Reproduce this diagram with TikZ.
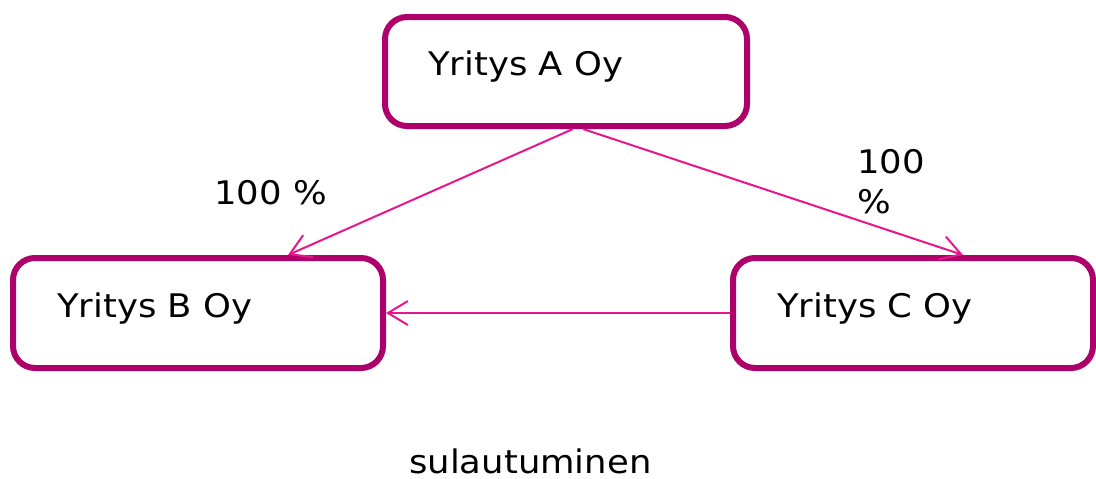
\documentclass[tikz,border=0pt]{standalone}
\usepackage{fontspec}
\setmainfont{DejaVu Sans}[FakeStretch=1.09]
\usetikzlibrary{arrows.meta,calc}
\definecolor{boxborder}{RGB}{174,0,106}
\definecolor{arrowpink}{RGB}{232,22,140}
\tikzset{
  firm/.style={draw=boxborder, line width=6pt, rounded corners=22pt, fill=white, inner sep=0pt},
  lbl/.style={anchor=base west, inner sep=0pt, font=\fontsize{32.5}{40}\selectfont, text=black},
  link/.style={draw=arrowpink, line width=2pt, -{Straight Barb[length=20pt,width=24pt,line width=2pt]}}
}
\begin{document}
\begin{tikzpicture}[x=1pt,y=-1pt]
\useasboundingbox (0,0) rectangle (1096,479);
\node[firm, minimum width=362pt, minimum height=109pt] (A) at (566,71.5) {};
\node[firm, minimum width=370pt, minimum height=110pt] (B) at (198,313) {};
\node[firm, minimum width=360pt, minimum height=110pt] (C) at (913,313) {};
\node[lbl] (tA) at (428,75) {Yritys A Oy};
\node[lbl] (tB) at (57,317) {Yritys B Oy};
\node[lbl] (tC) at (777,317) {Yritys C Oy};
\node[lbl] (p1) at (214,204) {100 \%};
\node[lbl] (p2) at (857,173) {100};
\node[lbl] (p3) at (857,213) {\%};
\node[lbl] (s) at (409,473) {sulautuminen};
\draw[link] ([xshift=7pt]A.south) -- ([xshift=90pt]B.north);
\draw[link] ([xshift=17pt]A.south) -- ([xshift=50pt]C.north);
\draw[link] (C.west) -- (B.east);
\end{tikzpicture}
\end{document}
